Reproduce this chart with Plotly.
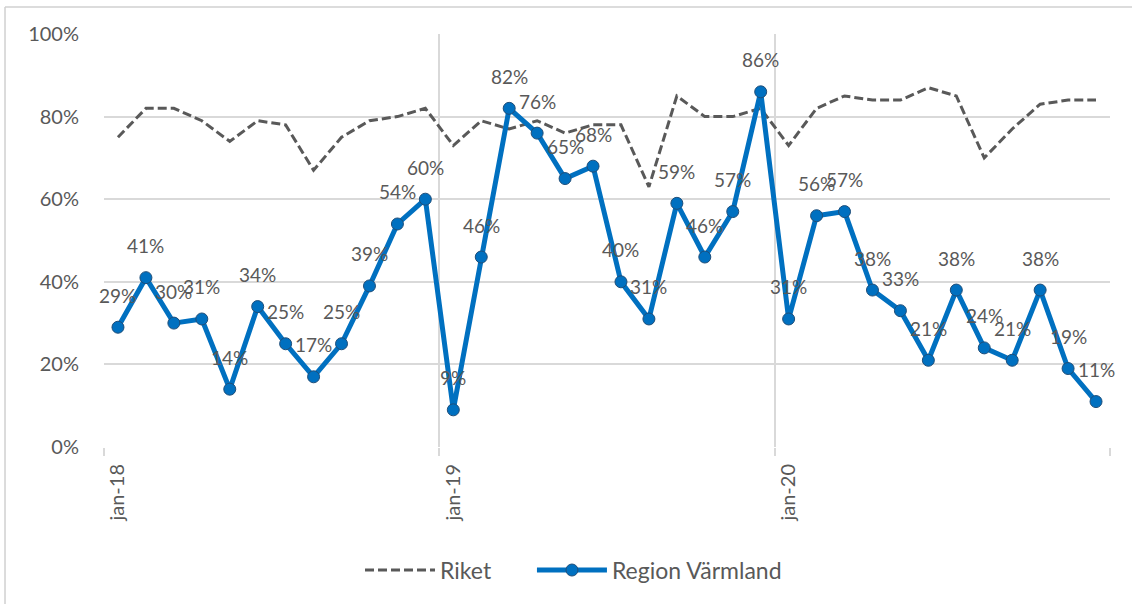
import plotly.graph_objects as go

# ---- data ----
months = list(range(36))  # jan-18 .. dec-20, monthly
tick_positions = [0, 12, 24]
tick_labels = ["jan-18", "jan-19", "jan-20"]
year_bounds = [-0.5, 11.5, 23.5, 35.5]

riket = [75, 82, 82, 79, 74, 79, 78, 67, 75, 79, 80, 82,
         73, 79, 77, 79, 76, 78, 78, 63, 85, 80, 80, 82,
         73, 82, 85, 84, 84, 87, 85, 70, 77, 83, 84, 84]

varmland = [29, 41, 30, 31, 14, 34, 25, 17, 25, 39, 54, 60,
            9, 46, 82, 76, 65, 68, 40, 31, 59, 46, 57, 86,
            31, 56, 57, 38, 33, 21, 38, 24, 21, 38, 19, 11]

GRAY_TXT = "#595959"
GRID = "#d9d9d9"
FONT = "Lato"

fig = go.Figure()

fig.add_trace(go.Scatter(
    x=months, y=[v / 100 for v in riket], name="Riket", mode="lines",
    line=dict(color="#595959", width=3, dash="9px,4px"),
    legend="legend",
))

fig.add_trace(go.Scatter(
    x=months, y=[v / 100 for v in varmland], name="Region Värmland",
    mode="lines+markers",
    line=dict(color="#0070C0", width=5),
    marker=dict(size=12, color="#0070C0", line=dict(color="#1F4E79", width=1)),
    legend="legend2",
))

for xi, v in zip(months, varmland):
    fig.add_annotation(
        x=xi, y=v / 100, text=f"{v}%", showarrow=False, yshift=32,
        font=dict(family=FONT, size=19, color=GRAY_TXT),
    )

# outer chart border (top + left), like the Excel chart frame
fig.add_shape(type="line", xref="paper", yref="paper",
              x0=-0.0984, x1=1.05, y0=1.0654, y1=1.0654,
              line=dict(color="#d0d0d0", width=1.5))
fig.add_shape(type="line", xref="paper", yref="paper",
              x0=-0.0984, x1=-0.0984, y0=1.0654, y1=-0.4,
              line=dict(color="#d0d0d0", width=1.5))

legend_style = dict(orientation="h", yanchor="middle", y=-0.298, xanchor="left",
                    font=dict(family=FONT, size=23, color=GRAY_TXT),
                    itemwidth=70, bgcolor="rgba(0,0,0,0)")

fig.update_layout(
    width=1132, height=604,
    margin=dict(l=104, r=22, t=34, b=157),
    paper_bgcolor="white", plot_bgcolor="white",
    font=dict(family=FONT, color=GRAY_TXT),
    showlegend=True,
    legend=dict(x=0.2545, **legend_style),
    legend2=dict(x=0.4254, **legend_style),
    xaxis=dict(
        range=[-0.5, 35.5], tickmode="array", tickvals=tick_positions, ticktext=tick_labels,
        tickangle=-90, showgrid=False, zeroline=False, showline=False, ticks="",
        ticklabelstandoff=12,
        tickfont=dict(family=FONT, size=20, color=GRAY_TXT),
        minor=dict(tickvals=year_bounds, showgrid=True, gridcolor=GRID, gridwidth=1.5,
                   ticks="outside", ticklen=8, tickcolor=GRID, tickwidth=1.5),
    ),
    yaxis=dict(
        range=[0, 1], tickmode="array", tickvals=[0, 0.2, 0.4, 0.6, 0.8, 1.0],
        tickformat=".0%", showgrid=True, gridcolor=GRID, gridwidth=1.5,
        zeroline=False, showline=False, ticks="", ticklabelstandoff=24,
        tickfont=dict(family=FONT, size=20, color=GRAY_TXT),
    ),
)

fig.write_html("out.html")
